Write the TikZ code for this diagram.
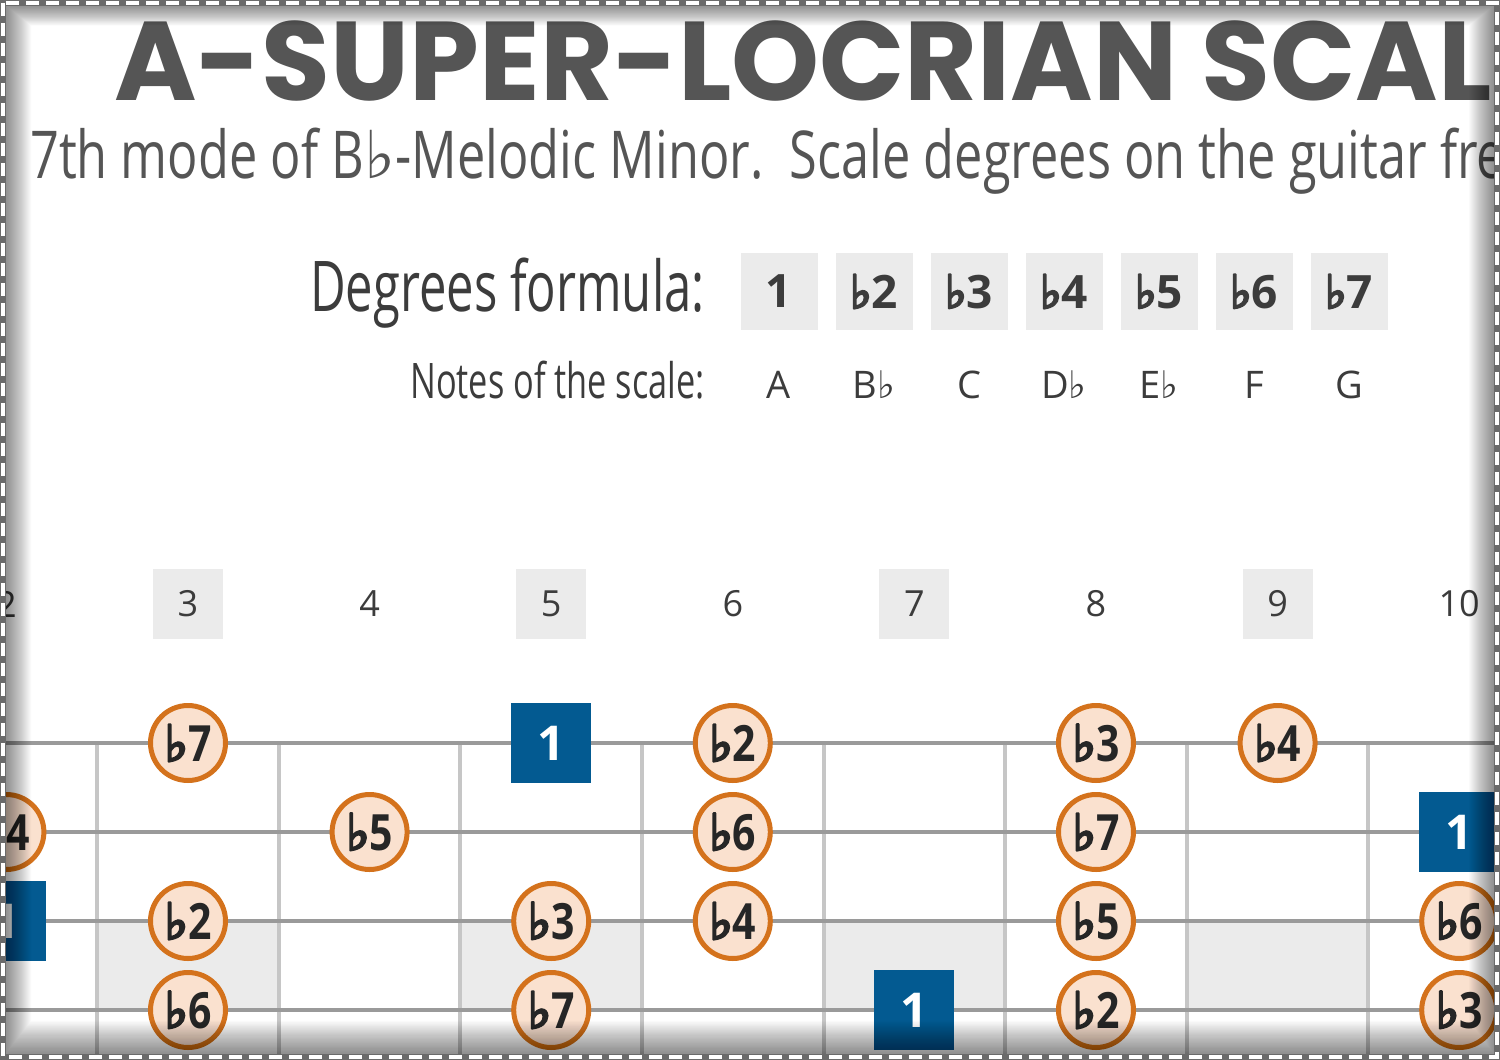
\documentclass[tikz,border=0pt]{standalone}
\usepackage{fontspec}
\setmainfont{Open Sans}
\newfontfamily\titlefont{Poppins}
\newfontfamily\condfont{Open Sans}[FakeStretch=0.765]
\newfontfamily\narrowfont{Open Sans}[FakeStretch=0.70]
\newfontfamily\condbold{Open Sans}[FakeStretch=0.82]
\newfontfamily\symfont{DejaVu Sans}
\newfontfamily\symboldfont{DejaVu Sans}[FakeBold=5]
\newcommand\fl{{\symfont ♭}}
\newcommand\flb{{\symboldfont ♭}}
\definecolor{titlegray}{HTML}{555555}
\definecolor{textgray}{HTML}{3C3C3C}
\definecolor{boxgray}{HTML}{EBEBEB}
\definecolor{noteorange}{HTML}{D4721C}
\definecolor{notefill}{HTML}{FAE1CF}
\definecolor{rootblue}{HTML}{035A91}
\definecolor{stringgray}{HTML}{9A9A9A}
\definecolor{fretgray}{HTML}{C6C6C6}
\definecolor{borderg}{HTML}{6A6A6A}
\tikzset{
  degbox/.style={fill=boxgray, minimum size=77pt, inner sep=0pt, font=\bfseries\fontsize{46}{46}\selectfont, text=textgray},
  notename/.style={anchor=base, inner sep=0pt, font=\fontsize{38}{38}\selectfont, text=textgray},
  fretnum/.style={minimum size=70pt, inner sep=0pt, font=\fontsize{36}{36}\selectfont, text=textgray},
  fretbox/.style={fretnum, fill=boxgray},
  deg/.style={circle, draw=noteorange, line width=5pt, fill=notefill, minimum size=75pt, inner sep=0pt, font=\condbold\bfseries\fontsize{50}{50}\selectfont, text=black!85},
  root/.style={rectangle, fill=rootblue, minimum size=80pt, inner sep=0pt, font=\bfseries\fontsize{48}{48}\selectfont, text=white},
  stringline/.style={draw=stringgray, line width=4pt},
  fretline/.style={draw=fretgray, line width=4pt},
  inlay/.style={fill=boxgray}
}
\begin{document}
\begin{tikzpicture}[x=1pt,y=-1pt]
\useasboundingbox (0,0) rectangle (1500,1060);
\clip (0,0) rectangle (1500,1060);
\fill[white] (0,0) rectangle (1500,1060);

% title and subtitle
\node[anchor=base west, inner sep=0pt, font=\titlefont\bfseries\fontsize{112}{112}\selectfont, text=titlegray] (title) at (114,100) {A-SUPER-LOCRIAN SCALE};
\node[anchor=base west, inner sep=0pt, font=\condfont\fontsize{66}{66}\selectfont, text=titlegray] (subtitle) at (30,178) {7th mode of B\fl-Melodic Minor.\ \ Scale degrees on the guitar fretboard};

% formula
\node[anchor=base east, inner sep=0pt, font=\narrowfont\fontsize{70}{70}\selectfont, text=textgray] (formlabel) at (705,311) {Degrees formula:};
\node[anchor=base east, inner sep=0pt, font=\narrowfont\fontsize{49}{49}\selectfont, text=textgray] (noteslabel) at (705,398) {Notes of the scale:};
\foreach \lab/\k in {1/0, \flb2/1, \flb3/2, \flb4/3, \flb5/4, \flb6/5, \flb7/6}{
  \node[degbox] (deg\k) at ({779+95*\k},291.5) {\lab};
}
\foreach \lab/\k in {A/0, B\fl/1, C/2, D\fl/3, E\fl/4, F/5, G/6}{
  \node[notename] (nn\k) at ({779+95*\k},398) {\lab};
}

% fret numbers
\foreach \f in {2,4,6,8,10}{
  \node[fretnum] (fn\f) at ({6.4+(\f-2)*181.6},604) {\f};
}
\foreach \f in {3,5,7,9}{
  \node[fretbox] (fn\f) at ({6.4+(\f-2)*181.6},604) {\f};
}

% inlays
\foreach \f in {3,5,7,9}{
  \fill[inlay] ({6.4+(\f-2)*181.6-90.8},921) rectangle ({6.4+(\f-2)*181.6+90.8},1010);
}
% frets
\foreach \k in {0,...,7}{
  \draw[fretline] ({97.2+181.6*\k},743) -- ({97.2+181.6*\k},1062);
}
% strings
\foreach \y in {743,832,921,1010}{
  \draw[stringline] (-5,\y) -- (1505,\y);
}

% notes: string 1 (y=743)
\node[deg]  (s1f3)  at (188,743)    {\flb7};
\node[root] (s1f5)  at (551.2,743)  {1};
\node[deg]  (s1f6)  at (732.8,743)  {\flb2};
\node[deg]  (s1f8)  at (1096,743)   {\flb3};
\node[deg]  (s1f9)  at (1277.6,743) {\flb4};
% string 2 (y=832)
\node[deg]  (s2f2)  at (6.4,832)    {\flb4};
\node[deg]  (s2f4)  at (369.6,832)  {\flb5};
\node[deg]  (s2f6)  at (732.8,832)  {\flb6};
\node[deg]  (s2f8)  at (1096,832)   {\flb7};
\node[root] (s2f10) at (1459.2,832) {1};
% string 3 (y=921)
\node[root] (s3f2)  at (6.4,921)    {1};
\node[deg]  (s3f3)  at (188,921)    {\flb2};
\node[deg]  (s3f5)  at (551.2,921)  {\flb3};
\node[deg]  (s3f6)  at (732.8,921)  {\flb4};
\node[deg]  (s3f8)  at (1096,921)   {\flb5};
\node[deg]  (s3f10) at (1459.2,921) {\flb6};
% string 4 (y=1010)
\node[deg]  (s4f3)  at (188,1010)   {\flb6};
\node[deg]  (s4f5)  at (551.2,1010) {\flb7};
\node[root] (s4f7)  at (914.4,1010) {1};
\node[deg]  (s4f8)  at (1096,1010)  {\flb2};
\node[deg]  (s4f10) at (1459.2,1010) {\flb3};

% inner shadow
\foreach \i in {0,...,27}{
  \fill[black, opacity=0.018, even odd rule] (0,0) rectangle (1500,1060) ({4+\i},{4+0.8*\i}) rectangle ({1496-\i},{1056-1.3*\i});
}
% dashed frame
\draw[line width=6pt, borderg] (3,3) rectangle (1497,1057);
\draw[line width=4pt, white, dash pattern=on 13pt off 7pt] (3,3) rectangle (1497,1057);
\end{tikzpicture}
\end{document}
